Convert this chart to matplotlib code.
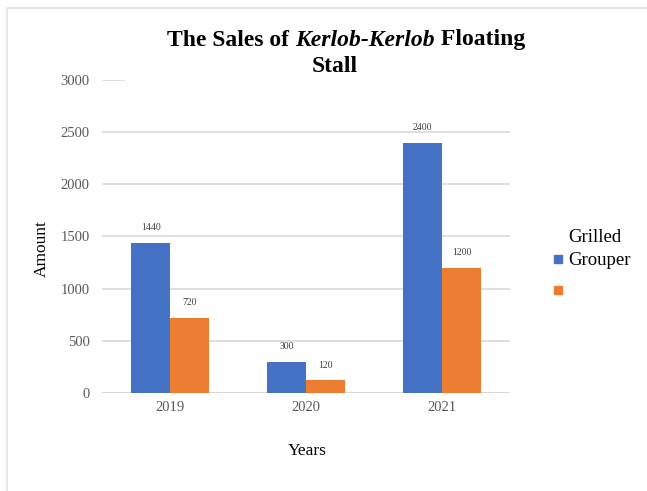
import matplotlib
matplotlib.use("Agg")
import matplotlib.pyplot as plt
from matplotlib.lines import Line2D
from matplotlib.patches import Rectangle
import numpy as np

# chart data
years = ["2019", "2020", "2021"]
grilled_grouper = [1440, 300, 2400]
second_series = [720, 120, 1200]
y_ticks = [0, 500, 1000, 1500, 2000, 2500, 3000]

blue = "#4472C4"
orange = "#ED7D31"
grid_col = "#D9D9D9"
tick_col = "#595959"
serif = "Liberation Serif"

fig = plt.figure(figsize=(6.47, 4.91), dpi=100)
ax = fig.add_axes([102 / 647, 98 / 491, 408 / 647, 313 / 491])

x = np.arange(len(years))
w = 0.285
b1 = ax.bar(x - w / 2, grilled_grouper, w, color=blue, zorder=3)
b2 = ax.bar(x + w / 2, second_series, w, color=orange, zorder=3)

for bars in (b1, b2):
    for r in bars:
        ax.annotate(str(int(r.get_height())), (r.get_x() + r.get_width() / 2, r.get_height()),
                    xytext=(0, 11), textcoords="offset points", ha="center", va="center",
                    fontsize=7, family=serif, color="#404040")

ax.set_xlim(-0.5, 2.5)
ax.set_ylim(0, 3000)
ax.set_yticks(y_ticks)
ax.set_xticks(x)
ax.set_xticklabels(years)
ax.yaxis.grid(True, color=grid_col, linewidth=1.2, zorder=0)
ax.tick_params(length=0, labelcolor=tick_col, labelsize=10.5)
ax.tick_params(axis="y", pad=9)
ax.tick_params(axis="x", pad=6)
for lab in ax.get_xticklabels() + ax.get_yticklabels():
    lab.set_family(serif)
for s in ax.spines.values():
    s.set_visible(False)
ax.axhline(0, color=grid_col, linewidth=1.4, zorder=2)

fig.text(42 / 647, 1 - 249 / 491, "Amount", rotation=90, ha="center", va="center",
         fontsize=12.5, family=serif)
fig.text(307 / 647, 1 - 451 / 491, "Years", ha="center", va="center", fontsize=12.5, family=serif)

# white box of the title hides most of the top gridline
fig.add_artist(Rectangle((125 / 647, 1 - 86 / 491), 390 / 647, 12 / 491, transform=fig.transFigure,
                         facecolor="white", edgecolor="none", zorder=5))

# title with bold italic part, centered as a whole
parts = [("The Sales of ", "normal"), ("Kerlob-Kerlob", "italic"), (" Floating", "normal")]
texts = []
for s, st in parts:
    texts.append(fig.text(0, 1 - 40 / 491, s, fontsize=17, weight="bold", style=st,
                          family=serif, va="center", ha="left", zorder=6))
fig.canvas.draw()
r = fig.canvas.get_renderer()
widths = [t.get_window_extent(r).width for t in texts]
total = sum(widths)
start = 346 - total / 2
for t, wd in zip(texts, widths):
    t.set_x(start / 647)
    start += wd
fig.text(335 / 647, 1 - 66 / 491, "Stall", fontsize=17, weight="bold", family=serif,
         ha="center", va="center", zorder=6)

# legend
fig.text(568 / 647, 1 - 237 / 491, "Grilled", fontsize=13.5, family=serif, ha="left", va="center")
handles = [Line2D([], [], marker="s", linestyle="none", color=blue, markersize=6),
           Line2D([], [], marker="s", linestyle="none", color=orange, markersize=6)]
fig.legend(handles, ["Grouper", " "], loc="upper left", bbox_to_anchor=(550 / 647, 1 - 252 / 491),
           frameon=False, prop={"family": serif, "size": 13.5}, handletextpad=0.15,
           handlelength=0.8, labelspacing=0.77, borderpad=0, borderaxespad=0)

# figure frame lines
fig.add_artist(Line2D([7 / 647, 1], [1 - 8 / 491] * 2, color="#E6E6E6", linewidth=1.5))
fig.add_artist(Line2D([7 / 647] * 2, [0, 1 - 8 / 491], color="#E6E6E6", linewidth=1.5))

fig.savefig("out.png", dpi=100)
